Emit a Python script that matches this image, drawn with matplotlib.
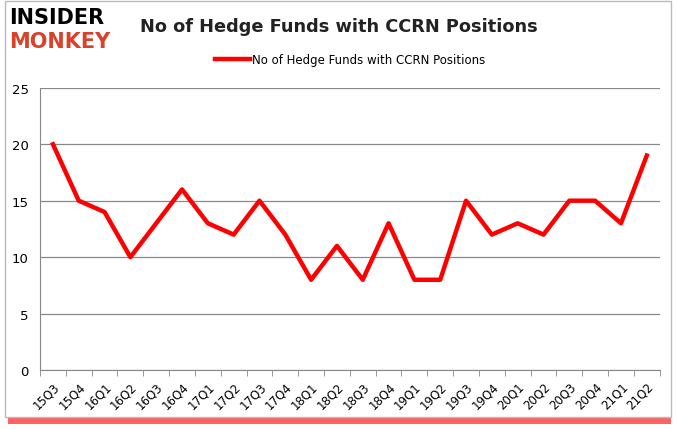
import matplotlib
matplotlib.use("Agg")
import matplotlib.pyplot as plt
from matplotlib.patches import Rectangle
import numpy as np

quarters = ["15Q3", "15Q4", "16Q1", "16Q2", "16Q3", "16Q4", "17Q1", "17Q2", "17Q3", "17Q4",
            "18Q1", "18Q2", "18Q3", "18Q4", "19Q1", "19Q2", "19Q3", "19Q4", "20Q1", "20Q2",
            "20Q3", "20Q4", "21Q1", "21Q2"]
funds = [20, 15, 14, 10, 13, 16, 13, 12, 15, 12, 8, 11, 8, 13, 8, 8, 15, 12, 13, 12, 15, 15, 13, 19]

fig = plt.figure(figsize=(6.78, 4.31), dpi=100)
fig.patch.set_facecolor("white")

# frame with red shadow at the bottom
fig.patches.append(Rectangle((0.012, 0.014), 0.978, 0.018, transform=fig.transFigure,
                             facecolor="#ff2020", edgecolor="none", alpha=0.7, zorder=0))
fig.patches.append(Rectangle((0.007, 0.03), 0.982, 0.965, transform=fig.transFigure,
                             facecolor="white", edgecolor="#bbbbbb", lw=1, zorder=0))

ax = fig.add_axes([0.059, 0.139, 0.914, 0.655])
ax.set_zorder(2)
x = np.arange(len(quarters))
ax.plot(x, funds, color="#ff0000", lw=3.2, label="No of Hedge Funds with CCRN Positions", zorder=3)

ax.set_xlim(-0.5, len(quarters) - 0.5)
ax.set_ylim(0, 25)
ax.set_yticks(range(0, 26, 5))
ax.yaxis.grid(True, color="#888888", lw=0.9)
ax.set_axisbelow(True)
ax.set_xticks(x)
ax.set_xticklabels(quarters, rotation=45, fontsize=8.5)
ax.set_xticks(np.arange(-0.5, len(quarters), 1), minor=True)
ax.tick_params(axis="x", which="major", length=0, pad=7)
ax.tick_params(axis="x", which="minor", length=4, color="#888888")
ax.tick_params(axis="y", length=0, labelsize=9.5, pad=8)
for lab in ax.get_xticklabels():
    lab.set_ha("right")
    lab.set_rotation_mode("anchor")
for s in ["top", "right"]:
    ax.spines[s].set_visible(False)
ax.spines["left"].set_color("#888888")
ax.spines["bottom"].set_color("#888888")

ax.legend(loc="center", bbox_to_anchor=(0.5, 1.099), frameon=False, fontsize=8.5,
          handlelength=3, handletextpad=0.1)

fig.text(0.5, 0.937, "No of Hedge Funds with CCRN Positions", ha="center", va="center",
         fontsize=12.8, fontweight="bold", color="#222222", zorder=3)
fig.text(0.014, 0.959, "INSIDER", ha="left", va="center", fontsize=15, fontweight="heavy",
         color="black", zorder=3)
fig.text(0.014, 0.903, "MONKEY", ha="left", va="center", fontsize=15, fontweight="heavy",
         color="#d9412b", zorder=3)

fig.savefig("out.png", dpi=100)
